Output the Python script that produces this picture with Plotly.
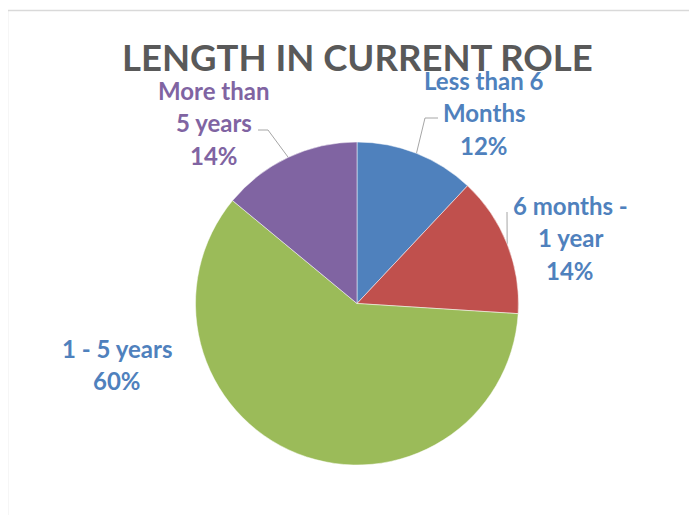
import math
import plotly.graph_objects as go

# ---- data ----
categories = ["Less than 6 Months", "6 months - 1 year", "1 - 5 years", "More than 5 years"]
label_lines = [["Less than 6", "Months"], ["6 months -", "1 year"], ["1 - 5 years"], ["More than", "5 years"]]
values = [12, 14, 60, 14]
slice_colors = ["#4F81BD", "#C0504D", "#9BBB59", "#8064A2"]
label_colors = ["#4F81BD", "#4F81BD", "#4F81BD", "#8064A2"]
title_text = "LENGTH IN CURRENT ROLE"

# ---- layout geometry (page pixels; the page body adds an 8px offset) ----
OFF = 8
PW, PH = 697, 515
W, H = PW - OFF, PH - OFF
cx, cy, R = 357, 303.5, 161.5
label_pos = [(484, 80), (570, 205), (117, 348), (214, 90)]  # first-line centre
line_gap = 32.5
label_font = "Lato"
# elbow points of leader lines (None = no leader)
elbows = [[(438, 118), (425, 118)], [(507, 212)], None, [(258, 130), (268, 130)]]

fig = go.Figure()

fig.add_trace(go.Pie(
    labels=categories, values=values, sort=False, direction="clockwise", rotation=0,
    marker=dict(colors=slice_colors, line=dict(color="white", width=0.5)),
    textinfo="none", hoverinfo="label+percent", showlegend=False,
    domain=dict(x=[(cx - R - OFF) / W, (cx + R - OFF) / W],
                y=[(PH - cy - R) / H, (PH - cy + R) / H]),
))

total = sum(values)
annotations = []
cum = 0
for i, v in enumerate(values):
    pct = round(100 * v / total)
    mid = (cum + v / 2) / total * 2 * math.pi
    cum += v
    ex, ey = cx + R * math.sin(mid), cy - R * math.cos(mid)
    if elbows[i]:
        pts = elbows[i] + [(ex, ey)]
        fig.add_trace(go.Scatter(x=[p[0] for p in pts], y=[p[1] for p in pts], mode="lines",
                                 line=dict(color="#A6A6A6", width=1), hoverinfo="skip",
                                 showlegend=False, xaxis="x", yaxis="y"))
    lx, ly = label_pos[i]
    for j, t in enumerate(label_lines[i] + [f"{pct}%"]):
        annotations.append(dict(x=lx, y=ly + j * line_gap, xref="x", yref="y", text=t,
                                showarrow=False, xanchor="center", yanchor="middle",
                                font=dict(family=label_font, size=24, weight="bold",
                                          color=label_colors[i])))

annotations.append(dict(x=357, y=57, xref="x", yref="y", text=title_text, showarrow=False,
                        xanchor="center", yanchor="middle",
                        font=dict(family=label_font, size=36.5, weight="bold", color="#595959")))

fig.update_layout(
    width=W, height=H, margin=dict(l=0, r=0, t=0, b=0),
    paper_bgcolor="white", plot_bgcolor="rgba(0,0,0,0)",
    xaxis=dict(range=[OFF, PW], visible=False, domain=[0, 1], fixedrange=True),
    yaxis=dict(range=[PH, OFF], visible=False, domain=[0, 1], fixedrange=True),
    annotations=annotations,
    shapes=[dict(type="rect", xref="x", yref="y", x0=7.5, y0=10.5, x1=PW + 5, y1=PH + 5,
                 line=dict(color="#D9D9D9", width=1.5), fillcolor="rgba(0,0,0,0)", layer="below")],
)

fig.write_html("out.html")
